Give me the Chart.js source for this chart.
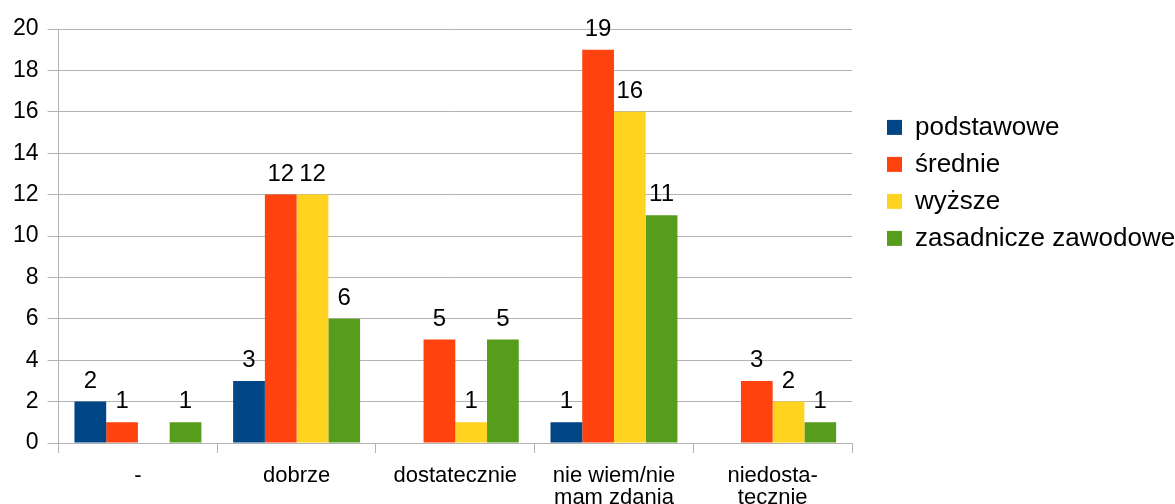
<!DOCTYPE html>
<html lang="pl">
<head>
    <meta charset="UTF-8">
    <title>Wykształcenie - ocena</title>
    <script src="https://cdn.jsdelivr.net/npm/chart.js"></script>
    <style>
        html, body { margin: 0; padding: 0; background: #fff; overflow: hidden; }
        #wrap { position: relative; width: 1175px; height: 521px; }
    </style>
</head>
<body>
    <div id="wrap"><canvas id="chart"></canvas></div>

    <script>
        // Chart data
        const categories = ['-', 'dobrze', 'dostatecznie', ['nie wiem/nie', 'mam zdania'], ['niedosta-', 'tecznie']];
        const podstawowe = [2, 3, 0, 1, 0];
        const srednie = [1, 12, 5, 19, 3];
        const wyzsze = [0, 12, 1, 16, 2];
        const zasadnicze = [1, 6, 5, 11, 1];
        const seriesNames = ['podstawowe', 'średnie', 'wyższe', 'zasadnicze zawodowe'];
        const seriesColors = ['#004586', '#ff420e', '#ffd320', '#579d1c'];
        const yTicks = [0, 2, 4, 6, 8, 10, 12, 14, 16, 18, 20];

        const FONT = "'Liberation Sans', Arial, sans-serif";

        // Draw the value above each non-zero bar
        const valueLabels = {
            id: 'valueLabels',
            afterDatasetsDraw(chart) {
                const ctx = chart.ctx;
                ctx.save();
                ctx.font = '24px ' + FONT;
                ctx.fillStyle = '#000';
                ctx.textAlign = 'center';
                ctx.textBaseline = 'alphabetic';
                chart.data.datasets.forEach((ds, i) => {
                    const meta = chart.getDatasetMeta(i);
                    meta.data.forEach((bar, j) => {
                        const v = ds.data[j];
                        if (!v) return;
                        ctx.fillText(String(v), bar.x, bar.y - 14);
                    });
                });
                ctx.restore();
            }
        };

        // Legend box is kept narrow for the layout, then stretched to the
        // canvas edge so the long label is not clipped
        const widenLegend = {
            id: 'widenLegend',
            afterLayout(chart) {
                const lg = chart.legend;
                if (!lg) return;
                lg.right = chart.width;
                lg.width = lg.right - lg.left;
            }
        };

        const allSeries = [podstawowe, srednie, wyzsze, zasadnicze];

        new Chart(document.getElementById('chart'), {
            type: 'bar',
            data: {
                labels: categories,
                datasets: allSeries.map((values, i) => ({
                    label: seriesNames[i],
                    data: values,
                    backgroundColor: seriesColors[i],
                    borderWidth: 0,
                    categoryPercentage: 0.8,
                    barPercentage: 1.0
                }))
            },
            options: {
                responsive: true,
                maintainAspectRatio: false,
                animation: false,
                events: [],
                layout: { padding: { left: 4, top: 29, right: 149, bottom: 0 } },
                plugins: {
                    tooltip: { enabled: false },
                    legend: {
                        position: 'right',
                        align: 'start',
                        maxWidth: 150,
                        title: { display: true, text: ' ', padding: { top: 60, bottom: 0 } },
                        labels: {
                            boxWidth: 15,
                            boxHeight: 15,
                            padding: 11,
                            color: '#000',
                            font: { family: FONT, size: 26 }
                        }
                    }
                },
                scales: {
                    x: {
                        offset: true,
                        grid: {
                            offset: true,
                            drawOnChartArea: false,
                            drawTicks: true,
                            tickLength: 10,
                            color: '#b3b3b3'
                        },
                        border: { color: '#b3b3b3' },
                        ticks: {
                            color: '#000',
                            maxRotation: 0,
                            autoSkip: false,
                            padding: 12,
                            font: { family: FONT, size: 22, lineHeight: 1.0 }
                        }
                    },
                    y: {
                        min: 0,
                        max: 20,
                        afterBuildTicks: s => { s.ticks = yTicks.map(v => ({ value: v })); },
                        grid: { color: '#b3b3b3', tickLength: 11 },
                        border: { color: '#b3b3b3' },
                        ticks: {
                            color: '#000',
                            padding: 9,
                            font: { family: FONT, size: 23 }
                        }
                    },
                    gap: {
                        axis: 'y',
                        position: 'right',
                        display: true,
                        grid: { display: false },
                        border: { display: false },
                        ticks: { display: false },
                        afterFit: s => { s.width = 24; }
                    }
                }
            },
            plugins: [valueLabels, widenLegend]
        });
    </script>
</body>
</html>
